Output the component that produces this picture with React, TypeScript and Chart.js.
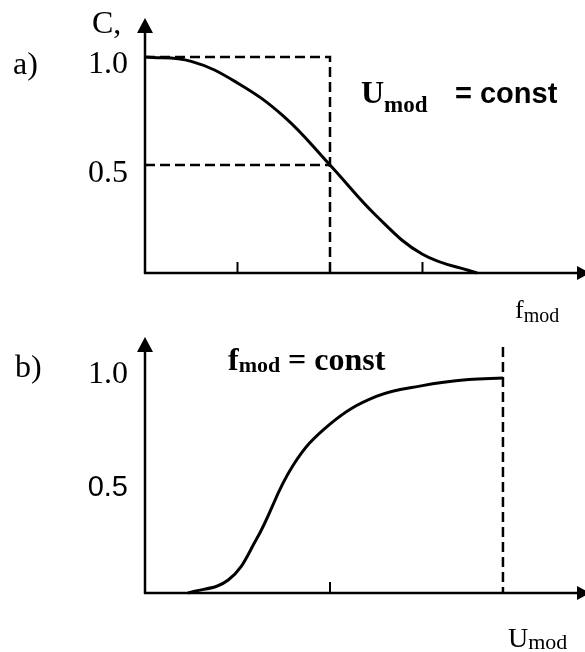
import React, { useEffect, useRef } from "react";
import { Chart, registerables } from "chart.js";

Chart.register(...registerables);

// ---- data ----------------------------------------------------------------
// Shared horizontal range (arbitrary units, tick spacing = 1)
const X_MAX = 4.757;

// a) C versus f_mod at constant U_mod
const A_CURVE_X = [0, 0.5, 1.0, 1.5, 2.0, 2.5, 3.0, 3.59];
const A_CURVE_Y = [1.0, 0.98, 0.88, 0.725, 0.5, 0.265, 0.087, 0.0];
const A_GUIDE_X = 2.0;
const A_GUIDE_LEVELS = [1.0, 0.5];
const A_X_TICKS = [1, 3];
const A_Y_TICKS = [1.0, 0.5];
const A_Y_LABELS = ["1.0", "0.5"];

// b) C versus U_mod at constant f_mod
const B_CURVE_X = [0.465, 0.9, 1.2, 1.6, 2.0, 2.5, 3.0, 3.5, 3.87];
const B_CURVE_Y = [0.0, 0.06, 0.245, 0.59, 0.782, 0.91, 0.96, 0.988, 0.995];
const B_GUIDE_X = 3.87;
const B_GUIDE_TOP = 1.139;
const B_X_TICKS = [2];
const B_Y_TICKS = [1.0, 0.5];
const B_Y_LABELS = ["1.0", "0.5"];

// ---- styling -------------------------------------------------------------
const SERIF = '"Liberation Serif", "Times New Roman", serif';
const SANS = '"Liberation Sans", Arial, sans-serif';
const INK = "#000000";
const DASH = [10, 5];

type Pt = { x: number; y: number };
const pts = (xs: number[], ys: number[]): Pt[] => xs.map((x, i) => ({ x, y: ys[i] }));

function drawSub(
  ctx: CanvasRenderingContext2D,
  base: string,
  sub: string,
  x: number,
  y: number,
  baseFont: string,
  subFont: string,
  subDy: number
) {
  ctx.font = baseFont;
  ctx.fillText(base, x, y);
  const w = ctx.measureText(base).width;
  ctx.font = subFont;
  ctx.fillText(sub, x + w, y + subDy);
}

function drawAxes(chart: any, xTicks: number[]) {
  const { ctx, chartArea } = chart;
  const xs = chart.scales.x;
  const ys = chart.scales.y;
  const x0 = xs.getPixelForValue(0);
  const y0 = ys.getPixelForValue(0);
  const top = chartArea.top;
  const right = chartArea.right + 5;
  ctx.save();
  ctx.strokeStyle = INK;
  ctx.fillStyle = INK;
  ctx.lineWidth = 2.5;
  ctx.setLineDash([]);
  // vertical axis
  ctx.beginPath();
  ctx.moveTo(x0, y0 + 1);
  ctx.lineTo(x0, top + 12);
  ctx.stroke();
  ctx.beginPath();
  ctx.moveTo(x0, top);
  ctx.lineTo(x0 - 8, top + 15);
  ctx.lineTo(x0 + 8, top + 15);
  ctx.closePath();
  ctx.fill();
  // horizontal axis
  ctx.beginPath();
  ctx.moveTo(x0 - 1, y0);
  ctx.lineTo(right - 10, y0);
  ctx.stroke();
  ctx.beginPath();
  ctx.moveTo(right, y0);
  ctx.lineTo(right - 13, y0 - 7);
  ctx.lineTo(right - 13, y0 + 7);
  ctx.closePath();
  ctx.fill();
  // small tick marks
  ctx.lineWidth = 2;
  for (const t of xTicks) {
    const px = xs.getPixelForValue(t);
    ctx.beginPath();
    ctx.moveTo(px, y0);
    ctx.lineTo(px, y0 - 11);
    ctx.stroke();
  }
  ctx.restore();
}

function drawYLabels(chart: any, values: number[], labels: string[], fonts: string[], dys: number[], rightX: number) {
  const { ctx } = chart;
  const ys = chart.scales.y;
  ctx.save();
  ctx.fillStyle = INK;
  ctx.textAlign = "right";
  ctx.textBaseline = "middle";
  values.forEach((v, i) => {
    ctx.font = fonts[i];
    ctx.fillText(labels[i], rightX, ys.getPixelForValue(v) + dys[i]);
  });
  ctx.restore();
}

const panelAPlugin = {
  id: "panelA",
  afterDatasetsDraw(chart: any) {
    const { ctx } = chart;
    drawAxes(chart, A_X_TICKS);
    drawYLabels(chart, A_Y_TICKS, A_Y_LABELS, [`32px ${SERIF}`, `32px ${SERIF}`], [8, 9], 128);
    ctx.save();
    ctx.fillStyle = INK;
    ctx.textAlign = "left";
    ctx.textBaseline = "alphabetic";
    ctx.font = `32px ${SERIF}`;
    ctx.fillText("a)", 13, 74);
    ctx.fillText("C,", 92, 33);
    drawSub(ctx, "U", "mod", 361, 103, `bold 32px ${SERIF}`, `bold 23px ${SERIF}`, 9);
    ctx.font = `bold 29px ${SANS}`;
    ctx.fillText("= const", 455, 103);
    drawSub(ctx, "f", "mod", 515, 318, `26px ${SERIF}`, `20px ${SERIF}`, 4);
    ctx.restore();
  },
};

const panelBPlugin = {
  id: "panelB",
  afterDatasetsDraw(chart: any) {
    const { ctx } = chart;
    drawAxes(chart, B_X_TICKS);
    drawYLabels(chart, B_Y_TICKS, B_Y_LABELS, [`32px ${SERIF}`, `29px ${SANS}`], [-2, 3], 128);
    ctx.save();
    ctx.fillStyle = INK;
    ctx.textAlign = "left";
    ctx.textBaseline = "alphabetic";
    ctx.font = `32px ${SERIF}`;
    ctx.fillText("b)", 15, 47);
    drawSub(ctx, "f", "mod", 228, 40, `bold 32px ${SERIF}`, `bold 22px ${SERIF}`, 2);
    ctx.font = `bold 32px ${SERIF}`;
    ctx.fillText("= const", 288, 40);
    drawSub(ctx, "U", "mod", 508, 317, `28px ${SERIF}`, `22px ${SERIF}`, 2);
    ctx.restore();
  },
};

function baseOptions(padTop: number, padBottom: number, yMax: number) {
  return {
    animation: false as const,
    responsive: false,
    maintainAspectRatio: false,
    layout: { padding: { left: 145, right: 0, top: padTop, bottom: padBottom } },
    scales: {
      x: { type: "linear" as const, min: 0, max: X_MAX, display: false },
      y: { type: "linear" as const, min: 0, max: yMax, display: false },
    },
    plugins: { legend: { display: false }, tooltip: { enabled: false } },
    elements: { point: { radius: 0 } },
  };
}

const curveStyle = {
  borderColor: INK,
  borderWidth: 3,
  tension: 0.4,
  pointRadius: 0,
  fill: false,
  clip: false as const,
};

const guideStyle = {
  borderColor: INK,
  borderWidth: 2.5,
  borderDash: DASH,
  tension: 0,
  pointRadius: 0,
  fill: false,
  clip: false as const,
};

export default function App() {
  const aRef = useRef<HTMLCanvasElement>(null);
  const bRef = useRef<HTMLCanvasElement>(null);

  useEffect(() => {
    const chartA = new Chart(aRef.current as HTMLCanvasElement, {
      type: "line",
      data: {
        datasets: [
          {
            ...guideStyle,
            data: [
              { x: 0, y: A_GUIDE_LEVELS[0] },
              { x: A_GUIDE_X, y: A_GUIDE_LEVELS[0] },
              { x: A_GUIDE_X, y: 0 },
            ],
          },
          {
            ...guideStyle,
            data: [
              { x: 0, y: A_GUIDE_LEVELS[1] },
              { x: A_GUIDE_X, y: A_GUIDE_LEVELS[1] },
            ],
          },
          { ...curveStyle, data: pts(A_CURVE_X, A_CURVE_Y) },
        ],
      },
      options: baseOptions(18, 57, 255 / 216) as any,
      plugins: [panelAPlugin],
    });

    const chartB = new Chart(bRef.current as HTMLCanvasElement, {
      type: "line",
      data: {
        datasets: [
          {
            ...guideStyle,
            data: [
              { x: B_GUIDE_X, y: B_GUIDE_TOP },
              { x: B_GUIDE_X, y: 0 },
            ],
          },
          { ...curveStyle, data: pts(B_CURVE_X, B_CURVE_Y) },
        ],
      },
      options: baseOptions(7, 59, 256 / 216) as any,
      plugins: [panelBPlugin],
    });

    return () => {
      chartA.destroy();
      chartB.destroy();
    };
  }, []);

  return (
    <div style={{ position: "absolute", left: 0, top: 0, width: 585, height: 652, background: "#fff", overflow: "hidden" }}>
      <canvas ref={aRef} width={585} height={330} style={{ position: "absolute", left: 0, top: 0, width: 585, height: 330 }} />
      <canvas ref={bRef} width={585} height={322} style={{ position: "absolute", left: 0, top: 330, width: 585, height: 322 }} />
    </div>
  );
}
